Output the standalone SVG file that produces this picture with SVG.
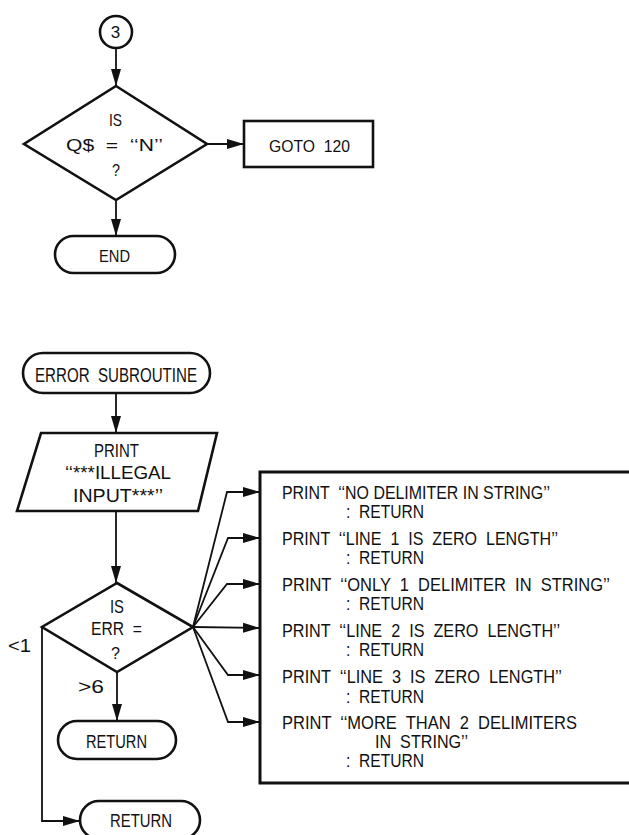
<svg xmlns="http://www.w3.org/2000/svg" width="629" height="835" viewBox="0 0 629 835" xml:space="preserve">
<defs>
<marker id="ah" markerUnits="userSpaceOnUse" markerWidth="18" markerHeight="11" refX="17" refY="5.5" orient="auto">
<path d="M0,0.5 L17,5.5 L0,10.5 Z" fill="#111"/>
</marker>
<style>
.s{fill:none;stroke:#111;stroke-width:2.6;stroke-linejoin:miter}
.c{fill:none;stroke:#111;stroke-width:1.8;marker-end:url(#ah)}
text{font-family:"Liberation Sans","Arial",sans-serif;fill:#111;white-space:pre}
.t17{font-size:17px}
.t19{font-size:19px}
.t20{font-size:20px}
.m{text-anchor:middle}
</style>
</defs>
<rect width="629" height="835" fill="#fff"/>

<g id="connectors">
<path class="c" d="M116,48 L116,86"/>
<path class="c" d="M207,144 L244,144"/>
<path class="c" d="M116,200 L116,236"/>
<path class="c" d="M116,393 L116,433"/>
<path class="c" d="M116,511 L116,583"/>
<path class="c" d="M117,672 L117,721"/>
<path class="c" d="M42,627 L42,821 L80,821"/>
<path class="c" d="M193,627 L227,492 L260,492"/>
<path class="c" d="M193,627 L228,538 L260,538"/>
<path class="c" d="M193,627 L227,584 L260,584"/>
<path class="c" d="M193,627 L260,628"/>
<path class="c" d="M193,627 L228,675 L260,675"/>
<path class="c" d="M193,627 L228,722 L260,722"/>
</g>

<g id="n3">
<circle class="s" cx="116" cy="32" r="16"/>
<text class="t17 m" x="115.5" y="38">3</text>
</g>

<g id="decision1">
<path class="s" d="M116,86 L207,144 L116,200 L24,144 Z"/>
<text class="t17" x="109" y="126" textLength="13" lengthAdjust="spacingAndGlyphs">IS</text>
<text class="t17" x="66" y="151" textLength="97" lengthAdjust="spacingAndGlyphs">Q$  =  ‘‘N’’</text>
<text class="t17" x="112" y="176" textLength="8" lengthAdjust="spacingAndGlyphs">?</text>
</g>

<g id="goto">
<rect class="s" x="244" y="121" width="129" height="46"/>
<text class="t17" x="269" y="152" textLength="81" lengthAdjust="spacingAndGlyphs">GOTO  120</text>
</g>

<g id="end">
<rect class="s" x="55" y="236" width="120" height="37" rx="18.5"/>
<text class="t17" x="99" y="262" textLength="31" lengthAdjust="spacingAndGlyphs">END</text>
</g>

<g id="errsub">
<rect class="s" x="23" y="353" width="187" height="40" rx="20"/>
<text class="t20" x="35" y="382" textLength="162" lengthAdjust="spacingAndGlyphs">ERROR  SUBROUTINE</text>
</g>

<g id="printillegal">
<path class="s" d="M41,433 L217,433 L198,511 L17,511 Z"/>
<text class="t19" x="94" y="457" textLength="45" lengthAdjust="spacingAndGlyphs">PRINT</text>
<text class="t19" x="65" y="479" textLength="106" lengthAdjust="spacingAndGlyphs">‘‘***ILLEGAL</text>
<text class="t19" x="73" y="502" textLength="90" lengthAdjust="spacingAndGlyphs">INPUT***’’</text>
</g>

<g id="decision2">
<path class="s" d="M117,583 L193,627 L117,672 L42,627 Z"/>
<text class="t19" x="110" y="613" textLength="14" lengthAdjust="spacingAndGlyphs">IS</text>
<text class="t19" x="91" y="635" textLength="51" lengthAdjust="spacingAndGlyphs">ERR  =</text>
<text class="t17" x="111" y="659" textLength="9" lengthAdjust="spacingAndGlyphs">?</text>
<text class="t19" x="8" y="652" textLength="23" lengthAdjust="spacingAndGlyphs">&lt;1</text>
<text class="t19" x="78" y="693" textLength="26" lengthAdjust="spacingAndGlyphs">&gt;6</text>
</g>

<g id="return1">
<rect class="s" x="58" y="721" width="118" height="38" rx="19"/>
<text class="t19" x="86" y="748" textLength="61" lengthAdjust="spacingAndGlyphs">RETURN</text>
</g>

<g id="return2">
<rect class="s" x="80" y="801" width="120" height="38" rx="19"/>
<text class="t19" x="110" y="827" textLength="62" lengthAdjust="spacingAndGlyphs">RETURN</text>
</g>

<g id="messages">
<path class="s" d="M640,472 L260,472 L260,783 L640,783" style="stroke-width:3"/>
<text class="t19" x="282" y="499" textLength="268" lengthAdjust="spacingAndGlyphs">PRINT  ‘‘NO DELIMITER IN STRING’’</text>
<text class="t19" x="346" y="518" textLength="78" lengthAdjust="spacingAndGlyphs">:  RETURN</text>
<text class="t19" x="282" y="545" textLength="276" lengthAdjust="spacingAndGlyphs">PRINT  ‘‘LINE  1  IS  ZERO  LENGTH’’</text>
<text class="t19" x="346" y="564" textLength="78" lengthAdjust="spacingAndGlyphs">:  RETURN</text>
<text class="t19" x="282" y="591" textLength="328" lengthAdjust="spacingAndGlyphs">PRINT  ‘‘ONLY  1  DELIMITER  IN  STRING’’</text>
<text class="t19" x="346" y="610" textLength="78" lengthAdjust="spacingAndGlyphs">:  RETURN</text>
<text class="t19" x="282" y="637" textLength="278" lengthAdjust="spacingAndGlyphs">PRINT  ‘‘LINE  2  IS  ZERO  LENGTH’’</text>
<text class="t19" x="346" y="656" textLength="78" lengthAdjust="spacingAndGlyphs">:  RETURN</text>
<text class="t19" x="282" y="683" textLength="280" lengthAdjust="spacingAndGlyphs">PRINT  ‘‘LINE  3  IS  ZERO  LENGTH’’</text>
<text class="t19" x="346" y="703" textLength="78" lengthAdjust="spacingAndGlyphs">:  RETURN</text>
<text class="t19" x="282" y="729" textLength="295" lengthAdjust="spacingAndGlyphs">PRINT  ‘‘MORE  THAN  2  DELIMITERS</text>
<text class="t19" x="375" y="748" textLength="93" lengthAdjust="spacingAndGlyphs">IN  STRING’’</text>
<text class="t19" x="346" y="767" textLength="78" lengthAdjust="spacingAndGlyphs">:  RETURN</text>
</g>
</svg>
